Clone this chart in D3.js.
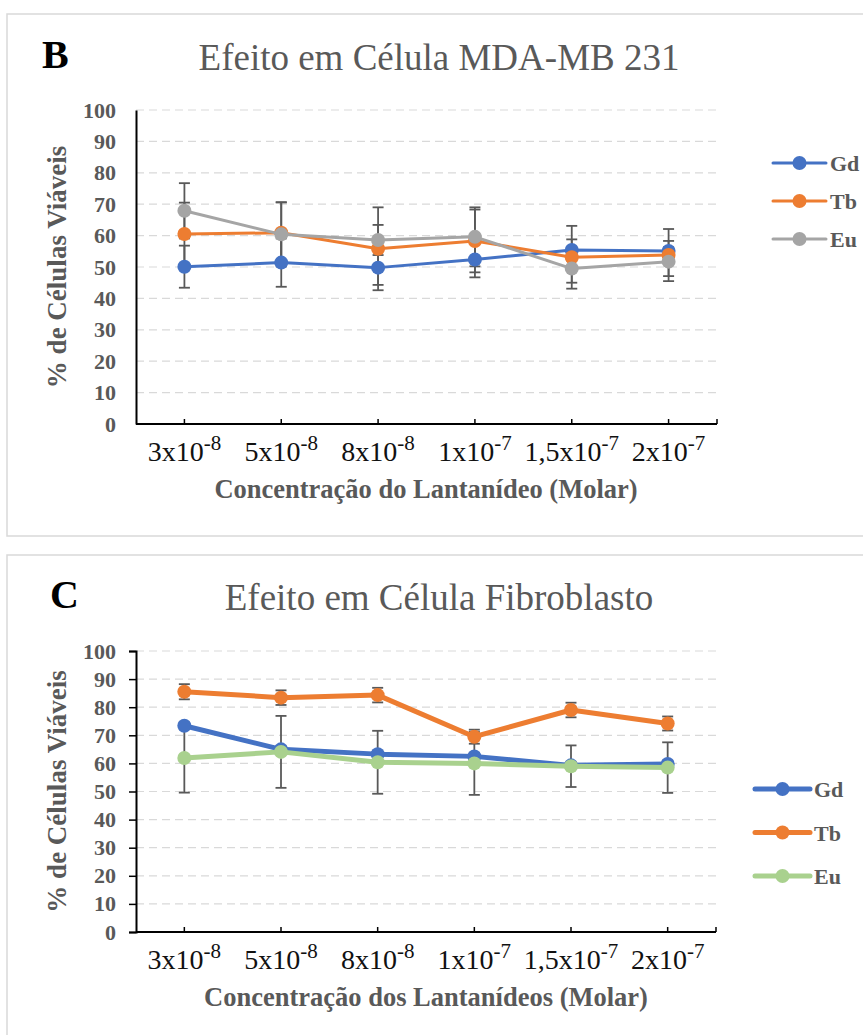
<!DOCTYPE html>
<html>
<head>
<meta charset="utf-8">
<script src="https://cdn.jsdelivr.net/npm/d3@7"></script>
<style>
  body { margin: 0; background: #fff; }
</style>
</head>
<body>
<script>
// categories (tick label = base + superscript exponent)
var tickBase = ["3x10", "5x10", "8x10", "1x10", "1,5x10", "2x10"];
var tickExp = ["-8", "-8", "-8", "-7", "-7", "-7"];
var yTicks = [0, 10, 20, 30, 40, 50, 60, 70, 80, 90, 100];
var seriesNames = ["Gd", "Tb", "Eu"];

// panel B - MDA-MB 231
var gdB = [50.1, 51.4, 49.8, 52.4, 55.4, 55.1];
var gdBErr = [6.7, 7.7, 5.5, 5.7, 3.4, 3.2];
var tbB = [60.5, 60.9, 55.8, 58.3, 53.1, 53.8];
var tbBErr = [10, 9.7, 13.2, 10, 10, 8.3];
var euB = [67.9, 60.4, 58.6, 59.6, 49.5, 51.7];
var euBErr = [8.8, 10.2, 4.8, 9.4, 4.5, 4.6];

// panel C - Fibroblasto
var gdC = [73.4, 65.0, 63.3, 62.5, 59.3, 59.8];
var gdCErr = [1.2, 1.2, 1.2, 1.2, 1.2, 1.2];
var tbC = [85.5, 83.4, 84.3, 69.5, 79.0, 74.2];
var tbCErr = [2.7, 2.6, 2.6, 2.5, 2.6, 2.5];
var euC = [61.9, 64.1, 60.4, 60.0, 59.0, 58.5];
var euCErr = [12.3, 12.8, 11.2, 11.2, 7.4, 9.0];

var grey = "#595959";
var serif = "'Liberation Serif', 'Times New Roman', serif";

var svg = d3.select("body")
  .append("svg")
    .attr("width", 863)
    .attr("height", 1035)
    .style("font-family", serif);

function drawPanel(p) {
  var g = svg.append("g");

  // panel frame
  g.append("rect")
      .attr("x", p.frame[0]).attr("y", p.frame[1])
      .attr("width", p.frame[2]).attr("height", p.frame[3])
      .attr("fill", "#fff")
      .attr("stroke", "#d9d9d9")
      .attr("stroke-width", 1.5);

  var x = d3.scalePoint()
      .domain(tickBase.map(function(d, i) { return i; }))
      .range([p.left, p.right])
      .padding(0.5);
  var y = d3.scaleLinear().domain([0, 100]).range([p.bottom, p.top]);

  // letter + title
  g.append("text")
      .attr("x", p.letterX).attr("y", p.letterY)
      .style("font-family", serif)
      .style("font-size", "40px").style("font-weight", "bold")
      .attr("fill", "#000")
      .text(p.letter);
  g.append("text")
      .attr("x", 439).attr("y", p.titleY)
      .attr("text-anchor", "middle")
      .style("font-family", serif)
      .style("font-size", "37px")
      .attr("fill", grey)
      .text(p.title);

  // grid
  g.selectAll(".grid")
      .data(yTicks.filter(function(d) { return d > 0; }))
    .enter().append("line")
      .attr("x1", p.left).attr("x2", p.right)
      .attr("y1", function(d) { return y(d); })
      .attr("y2", function(d) { return y(d); })
      .attr("stroke", "#d9d9d9")
      .attr("stroke-width", 1.2)
      .attr("stroke-dasharray", "8,5");

  // y axis
  var yAxis = d3.axisLeft(y).tickValues(yTicks).tickSize(p.yTick).tickPadding(p.yPad);
  var ya = g.append("g")
      .attr("transform", "translate(" + p.left + ",0)")
      .call(yAxis)
      .attr("font-family", null);
  ya.select(".domain").attr("stroke", "#000").attr("stroke-width", 2);
  ya.selectAll(".tick line").attr("stroke", "#000").attr("stroke-width", 1.5);
  ya.selectAll(".tick text")
      .attr("fill", grey)
      .style("font-family", serif)
      .style("font-size", "22px")
      .style("font-weight", "bold");

  // x axis line + inward ticks
  g.append("line")
      .attr("x1", p.left).attr("x2", p.right)
      .attr("y1", p.bottom).attr("y2", p.bottom)
      .attr("stroke", "#000").attr("stroke-width", 2);
  var tickPos = x.domain().map(function(d) { return x(d); }).concat([p.right]);
  g.selectAll(".xtick")
      .data(tickPos)
    .enter().append("line")
      .attr("x1", function(d) { return d; })
      .attr("x2", function(d) { return d; })
      .attr("y1", p.bottom).attr("y2", p.bottom - 5)
      .attr("stroke", "#000").attr("stroke-width", 1.5);

  // x tick labels with superscript
  var xl = g.selectAll(".xlab")
      .data(tickBase)
    .enter().append("text")
      .attr("x", function(d, i) { return x(i); })
      .attr("y", p.bottom + 37)
      .attr("text-anchor", "middle")
      .style("font-family", serif)
      .style("font-size", "28px")
      .attr("fill", "#111");
  xl.append("tspan").text(function(d) { return d; });
  xl.append("tspan")
      .attr("dy", -11)
      .style("font-size", "21px")
      .text(function(d, i) { return tickExp[i]; });

  // axis titles
  g.append("text")
      .attr("x", 426).attr("y", p.bottom + 74)
      .attr("text-anchor", "middle")
      .style("font-family", serif)
      .style("font-size", "26.5px").style("font-weight", "bold")
      .attr("fill", grey)
      .text(p.xTitle);
  g.append("text")
      .attr("transform", "translate(66," + ((p.top + p.bottom) / 2) + ") rotate(-90)")
      .attr("text-anchor", "middle")
      .style("font-family", serif)
      .style("font-size", "27px").style("font-weight", "bold")
      .attr("fill", grey)
      .text("% de Células Viáveis");

  // error bars first
  p.series.forEach(function(s) {
    var eb = g.append("g");
    s.values.forEach(function(v, i) {
      var cx = x(i), lo = y(v - s.err[i]), hi = y(v + s.err[i]);
      eb.append("line").attr("x1", cx).attr("x2", cx).attr("y1", lo).attr("y2", hi);
      eb.append("line").attr("x1", cx - 5.5).attr("x2", cx + 5.5).attr("y1", lo).attr("y2", lo);
      eb.append("line").attr("x1", cx - 5.5).attr("x2", cx + 5.5).attr("y1", hi).attr("y2", hi);
    });
    eb.selectAll("line").attr("stroke", grey).attr("stroke-width", 1.8);
  });

  // lines and markers
  var line = d3.line()
      .x(function(d, i) { return x(i); })
      .y(function(d) { return y(d); });
  p.series.forEach(function(s) {
    g.append("path")
        .datum(s.values)
        .attr("d", line)
        .attr("fill", "none")
        .attr("stroke", s.color)
        .attr("stroke-width", p.lineW)
        .attr("stroke-linejoin", "round");
    g.selectAll(null)
        .data(s.values)
      .enter().append("circle")
        .attr("cx", function(d, i) { return x(i); })
        .attr("cy", function(d) { return y(d); })
        .attr("r", 7)
        .attr("fill", s.color);
  });

  // legend
  var legend = g.selectAll(".legend")
      .data(p.series)
    .enter().append("g")
      .attr("transform", function(d, i) { return "translate(" + p.legX + "," + (p.legY + i * p.legStep) + ")"; });
  legend.append("line")
      .attr("x1", 0).attr("x2", p.legLen)
      .attr("stroke", function(d) { return d.color; })
      .attr("stroke-width", p.lineW)
      .attr("stroke-linecap", "round");
  legend.append("circle")
      .attr("cx", p.legLen / 2).attr("r", 7)
      .attr("fill", function(d) { return d.color; });
  legend.append("text")
      .attr("x", p.legLen + 4).attr("y", 8)
      .style("font-family", serif)
      .style("font-size", "22px").style("font-weight", "bold")
      .attr("fill", grey)
      .text(function(d) { return d.name; });
}

drawPanel({
  frame: [7, 14, 870, 522],
  letter: "B", letterX: 42, letterY: 68,
  title: "Efeito em Célula MDA-MB 231", titleY: 70,
  left: 136, right: 717, top: 110, bottom: 424,
  yTick: 0, yPad: 20,
  xTitle: "Concentração do Lantanídeo (Molar)",
  lineW: 3,
  legX: 773, legY: 163, legStep: 38, legLen: 53,
  series: [
    {name: seriesNames[0], values: gdB, err: gdBErr, color: "#4472C4"},
    {name: seriesNames[1], values: tbB, err: tbBErr, color: "#ED7D31"},
    {name: seriesNames[2], values: euB, err: euBErr, color: "#A5A5A5"}
  ]
});

drawPanel({
  frame: [7, 555, 870, 500],
  letter: "C", letterX: 50, letterY: 608,
  title: "Efeito em Célula Fibroblasto", titleY: 610,
  left: 136, right: 716, top: 651, bottom: 932,
  yTick: 7, yPad: 13,
  xTitle: "Concentração dos Lantanídeos (Molar)",
  lineW: 5,
  legX: 755, legY: 789, legStep: 43.5, legLen: 55,
  series: [
    {name: seriesNames[0], values: gdC, err: gdCErr, color: "#4472C4"},
    {name: seriesNames[1], values: tbC, err: tbCErr, color: "#ED7D31"},
    {name: seriesNames[2], values: euC, err: euCErr, color: "#A9D18E"}
  ]
});
</script>
</body>
</html>
